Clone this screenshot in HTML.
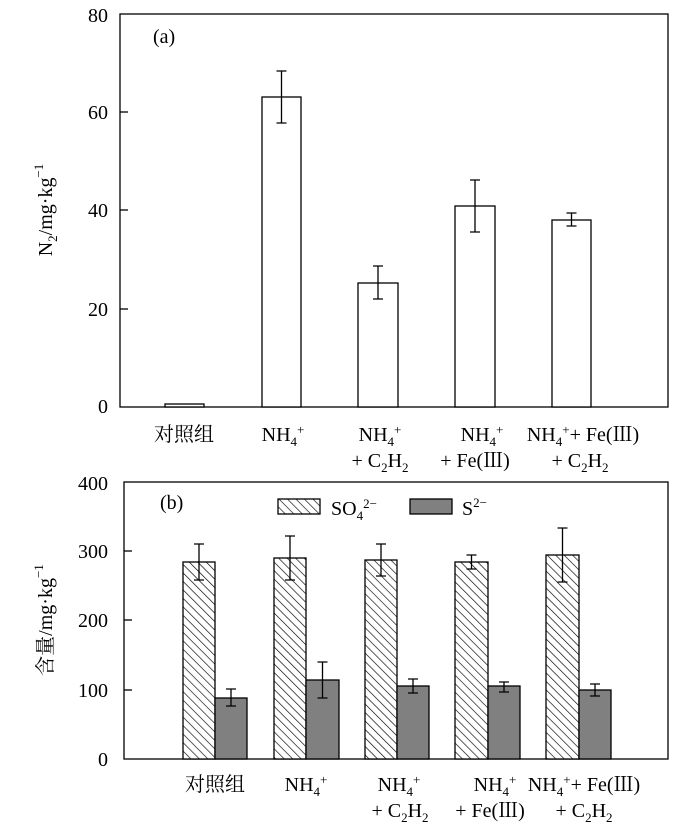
<!DOCTYPE html>
<html><head><meta charset="utf-8"><style>
html,body{margin:0;padding:0;background:#fff;}
svg text{font-family:"Liberation Serif","Noto Serif CJK SC","Noto Sans CJK SC",serif;fill:#000;}
</style></head><body>
<svg width="700" height="831" viewBox="0 0 700 831" xmlns="http://www.w3.org/2000/svg">
<defs>
<pattern id="h" patternUnits="userSpaceOnUse" width="6" height="6" patternTransform="rotate(-45)">
<rect width="6" height="6" fill="#fff"/>
<line x1="0" y1="0" x2="0" y2="6" stroke="#000" stroke-width="1.3"/>
</pattern>
</defs>
<g stroke="#000" stroke-width="1.3" fill="none">
<rect x="120" y="14" width="548" height="393"/>
<line x1="120" y1="112" x2="128" y2="112"/>
<line x1="120" y1="210" x2="128" y2="210"/>
<line x1="120" y1="309" x2="128" y2="309"/>
<rect x="165" y="404" width="39" height="3" fill="#fff"/>
<rect x="262" y="97" width="39" height="310" fill="#fff"/>
<rect x="358" y="283" width="40" height="124" fill="#fff"/>
<rect x="455" y="206" width="40" height="201" fill="#fff"/>
<rect x="552" y="220" width="39" height="187" fill="#fff"/>
<path d="M281.5 123V71M276.5 123h10M276.5 71h10"/>
<path d="M378 299V266M373 299h10M373 266h10"/>
<path d="M475 232V180M470 232h10M470 180h10"/>
<path d="M571.5 226V213M566.5 226h10M566.5 213h10"/>
<rect x="124" y="482" width="544" height="277"/>
<line x1="124" y1="551" x2="132" y2="551"/>
<line x1="124" y1="620" x2="132" y2="620"/>
<line x1="124" y1="690" x2="132" y2="690"/>
</g>
<g stroke="#000" stroke-width="1.3">
<rect x="183" y="562" width="32" height="197" fill="url(#h)"/>
<rect x="215" y="698" width="32" height="61" fill="#808080"/>
<rect x="274" y="558" width="32" height="201" fill="url(#h)"/>
<rect x="306" y="680" width="33" height="79" fill="#808080"/>
<rect x="365" y="560" width="32" height="199" fill="url(#h)"/>
<rect x="397" y="686" width="32" height="73" fill="#808080"/>
<rect x="455" y="562" width="33" height="197" fill="url(#h)"/>
<rect x="488" y="686" width="32" height="73" fill="#808080"/>
<rect x="546" y="555" width="33" height="204" fill="url(#h)"/>
<rect x="579" y="690" width="32" height="69" fill="#808080"/>
<rect x="278" y="499" width="42" height="15" fill="url(#h)"/>
<rect x="410" y="499" width="42" height="15" fill="#808080"/>
</g>
<g stroke="#000" stroke-width="1.3" fill="none">
<path d="M199 580V544M194 580h10M194 544h10"/>
<path d="M231 706V689M226 706h10M226 689h10"/>
<path d="M290 580V536M285 580h10M285 536h10"/>
<path d="M322.5 698V662M317.5 698h10M317.5 662h10"/>
<path d="M381 576V544M376 576h10M376 544h10"/>
<path d="M413 693V679M408 693h10M408 679h10"/>
<path d="M471.5 569V555M466.5 569h10M466.5 555h10"/>
<path d="M504 692V682M499 692h10M499 682h10"/>
<path d="M562.5 582V528M557.5 582h10M557.5 528h10"/>
<path d="M595 696V684M590 696h10M590 684h10"/>
</g>
<g font-size="20">
<text x="108" y="22" text-anchor="end">80</text>
<text x="108" y="119" text-anchor="end">60</text>
<text x="108" y="217" text-anchor="end">40</text>
<text x="108" y="316" text-anchor="end">20</text>
<text x="108" y="413" text-anchor="end">0</text>
<text x="153" y="43">(a)</text>
<text transform="translate(52,210) rotate(-90)" text-anchor="middle">N<tspan font-size="13" dy="5">2</tspan><tspan dy="-5">/mg·kg</tspan><tspan font-size="13" dy="-9">−1</tspan></text>
<text x="184" y="441" text-anchor="middle">对照组</text>
<text x="283" y="441" text-anchor="middle">NH<tspan font-size="13" dy="5">4</tspan><tspan font-size="13" dy="-12">+</tspan></text>
<text x="380" y="441" text-anchor="middle">NH<tspan font-size="13" dy="5">4</tspan><tspan font-size="13" dy="-12">+</tspan></text>
<text x="380" y="467" text-anchor="middle">+ C<tspan font-size="13" dy="5">2</tspan><tspan dy="-5">H</tspan><tspan font-size="13" dy="5">2</tspan></text>
<text x="482" y="441" text-anchor="middle">NH<tspan font-size="13" dy="5">4</tspan><tspan font-size="13" dy="-12">+</tspan></text>
<text x="475" y="467" text-anchor="middle">+ Fe(Ⅲ)</text>
<text x="583" y="441" text-anchor="middle">NH<tspan font-size="13" dy="5">4</tspan><tspan font-size="13" dy="-12">+</tspan><tspan dy="7">+ Fe(Ⅲ)</tspan></text>
<text x="580" y="467" text-anchor="middle">+ C<tspan font-size="13" dy="5">2</tspan><tspan dy="-5">H</tspan><tspan font-size="13" dy="5">2</tspan></text>

<text x="108" y="490" text-anchor="end">400</text>
<text x="108" y="558" text-anchor="end">300</text>
<text x="108" y="627" text-anchor="end">200</text>
<text x="108" y="697" text-anchor="end">100</text>
<text x="108" y="766" text-anchor="end">0</text>
<text x="160" y="509">(b)</text>
<text x="331" y="515">SO<tspan font-size="13" dy="5">4</tspan><tspan font-size="13" dy="-12">2−</tspan></text>
<text x="462" y="515">S<tspan font-size="13" dy="-8">2−</tspan></text>
<text transform="translate(52,620) rotate(-90)" text-anchor="middle">含量/mg·kg<tspan font-size="13" dy="-9">−1</tspan></text>
<text x="215" y="791" text-anchor="middle">对照组</text>
<text x="306" y="791" text-anchor="middle">NH<tspan font-size="13" dy="5">4</tspan><tspan font-size="13" dy="-12">+</tspan></text>
<text x="399" y="791" text-anchor="middle">NH<tspan font-size="13" dy="5">4</tspan><tspan font-size="13" dy="-12">+</tspan></text>
<text x="400" y="817" text-anchor="middle">+ C<tspan font-size="13" dy="5">2</tspan><tspan dy="-5">H</tspan><tspan font-size="13" dy="5">2</tspan></text>
<text x="495" y="791" text-anchor="middle">NH<tspan font-size="13" dy="5">4</tspan><tspan font-size="13" dy="-12">+</tspan></text>
<text x="490" y="817" text-anchor="middle">+ Fe(Ⅲ)</text>
<text x="584" y="791" text-anchor="middle">NH<tspan font-size="13" dy="5">4</tspan><tspan font-size="13" dy="-12">+</tspan><tspan dy="7">+ Fe(Ⅲ)</tspan></text>
<text x="584" y="817" text-anchor="middle">+ C<tspan font-size="13" dy="5">2</tspan><tspan dy="-5">H</tspan><tspan font-size="13" dy="5">2</tspan></text>
</g>
</svg>
</body></html>
